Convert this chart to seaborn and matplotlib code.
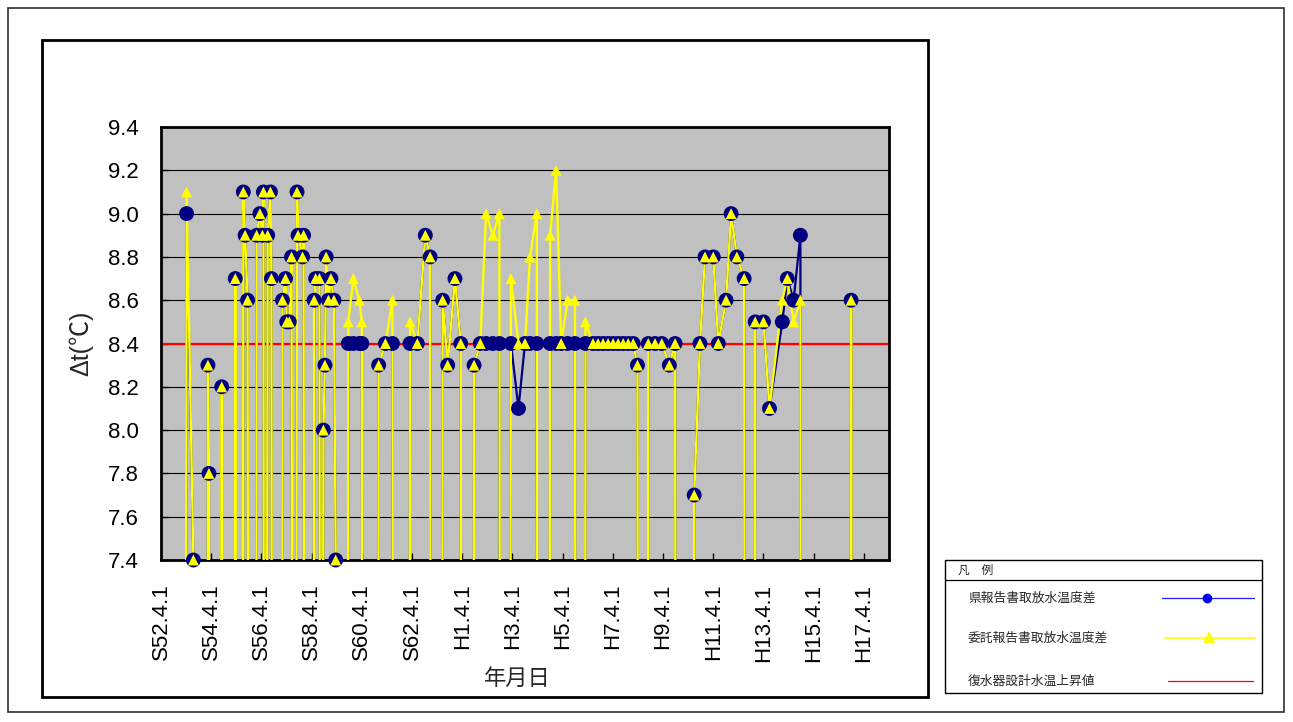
import matplotlib
matplotlib.use("Agg")
import matplotlib.pyplot as plt
from matplotlib.patches import Rectangle
from matplotlib.lines import Line2D
import numpy as np
import pandas as pd
import seaborn as sns

# ---------------- data ----------------
# report dates (decimal years); 0 = blank cell (plotted as zero by the spreadsheet)
report_dates = [
    1978.17, 1978.27, 1978.54, 1978.60, 1979.06, 1979.12, 1979.16, 1979.22,
    1979.62, 1979.67, 1979.72, 1980.16, 1980.21, 1980.26, 1980.48, 1980.53,
    1980.60, 1980.70, 1980.76, 1981.01, 1981.06, 1981.19, 1981.29, 1981.33,
    1981.39, 1981.50, 1981.61, 1981.65, 1981.71, 1982.05, 1982.09, 1982.21,
    1982.26, 1982.36, 1982.45, 1982.55, 1982.67, 1982.71, 1982.89, 1982.93,
    1982.99, 1983.29, 1983.35, 1983.41, 1983.56, 1983.64, 1983.72, 1983.78,
    1983.83, 1983.92, 1984.02, 1984.14, 1984.21, 1984.26, 1984.64, 1984.71,
    1984.91, 1985.15, 1985.25, 1985.32, 1985.86, 1985.92, 1986.19, 1986.47,
    1986.55, 1987.11, 1987.17, 1987.46, 1987.78, 1987.97, 1988.03, 1988.41,
    1988.47, 1988.67, 1988.96, 1989.19, 1989.26, 1989.66, 1989.72, 1989.97,
    1990.20, 1990.47, 1990.73, 1990.80, 1991.09, 1991.19, 1991.49, 1991.75,
    1991.95, 1992.22, 1992.29, 1992.69, 1992.75, 1992.99, 1993.19, 1993.45,
    1993.74, 1993.82, 1994.10, 1994.16, 1994.46, 1994.66, 1994.86, 1995.06,
    1995.26, 1995.46, 1995.66, 1995.86, 1996.06, 1996.23, 1996.29, 1996.59,
    1996.66, 1996.93, 1997.20, 1997.50, 1997.73, 1997.79, 1998.43, 1998.49,
    1998.72, 1998.92, 1999.25, 1999.45, 1999.76, 1999.96, 2000.19, 2000.48,
    2000.54, 2000.86, 2000.92, 2001.25, 2001.49, 2002.00, 2002.20, 2002.45,
    2002.72, 2002.77, 2004.68, 2004.74, 2004.80,
]
ken_values = [  # 県報告書取放水温度差
    0, 9.0, 7.4, 0, 0, 8.3, 7.8, 0,
    0, 8.2, 0, 0, 8.7, 0, 0, 9.1,
    8.9, 8.6, 0, 0, 8.9, 9.0, 8.9, 9.1,
    0, 8.9, 9.1, 8.7, 0, 0, 8.6, 8.7,
    8.5, 8.5, 8.8, 0, 9.1, 8.9, 8.8, 8.9,
    0, 0, 8.6, 8.7, 8.7, 0, 8.0, 8.3,
    8.8, 8.6, 8.7, 8.6, 7.4, 0, 0, 8.4,
    8.4, 8.4, 8.4, 0, 0, 8.3, 8.4, 8.4,
    0, 0, 8.4, 8.4, 8.9, 8.8, 0, 0,
    8.6, 8.3, 8.7, 8.4, 0, 0, 8.3, 8.4,
    8.4, 8.4, 8.4, 0, 0, 8.4, 8.1, 8.4,
    8.4, 8.4, 0, 0, 8.4, 8.4, 8.4, 8.4,
    8.4, 0, 0, 8.4, 8.4, 8.4, 8.4, 8.4,
    8.4, 8.4, 8.4, 8.4, 8.4, 8.3, 0, 0,
    8.4, 8.4, 8.4, 8.3, 8.4, 0, 0, 7.7,
    8.4, 8.8, 8.8, 8.4, 8.6, 9.0, 8.8, 8.7,
    0, 0, 8.5, 8.5, 8.1, 8.5, 8.7, 8.6,
    8.9, 0, 0, 8.6, 0,
]
itaku_values = [  # 委託報告書取放水温度差
    0, 9.1, 7.4, 0, 0, 8.3, 7.8, 0,
    0, 8.2, 0, 0, 8.7, 0, 0, 9.1,
    8.9, 8.6, 0, 0, 8.9, 9.0, 8.9, 9.1,
    0, 8.9, 9.1, 8.7, 0, 0, 8.6, 8.7,
    8.5, 8.5, 8.8, 0, 9.1, 8.9, 8.8, 8.9,
    0, 0, 8.6, 8.7, 8.7, 0, 8.0, 8.3,
    8.8, 8.6, 8.7, 8.6, 7.4, 0, 0, 8.5,
    8.7, 8.6, 8.5, 0, 0, 8.3, 8.4, 8.6,
    0, 0, 8.5, 8.4, 8.9, 8.8, 0, 0,
    8.6, 8.3, 8.7, 8.4, 0, 0, 8.3, 8.4,
    9.0, 8.9, 9.0, 0, 0, 8.7, 8.4, 8.4,
    8.8, 9.0, 0, 0, 8.9, 9.2, 8.4, 8.6,
    8.6, 0, 0, 8.5, 8.4, 8.4, 8.4, 8.4,
    8.4, 8.4, 8.4, 8.4, 8.4, 8.3, 0, 0,
    8.4, 8.4, 8.4, 8.3, 8.4, 0, 0, 7.7,
    8.4, 8.8, 8.8, 8.4, 8.6, 9.0, 8.8, 8.7,
    0, 0, 8.5, 8.5, 8.1, 8.6, 8.7, 8.5,
    8.6, 0, 0, 8.6, 0,
]
design_rise = 8.4  # 復水器設計水温上昇値

tick_years = [1977.25, 1979.25, 1981.25, 1983.25, 1985.25, 1987.25, 1989.25,
              1991.25, 1993.25, 1995.25, 1997.25, 1999.25, 2001.25, 2003.25,
              2005.25]
tick_labels = ["S52.4.1", "S54.4.1", "S56.4.1", "S58.4.1", "S60.4.1",
               "S62.4.1", "H1.4.1", "H3.4.1", "H5.4.1", "H7.4.1", "H9.4.1",
               "H11.4.1", "H13.4.1", "H15.4.1", "H17.4.1"]
y_ticks = [7.4, 7.6, 7.8, 8.0, 8.2, 8.4, 8.6, 8.8, 9.0, 9.2, 9.4]

legend_title = "凡　例"
legend_labels = ["県報告書取放水温度差", "委託報告書取放水温度差", "復水器設計水温上昇値"]

# ---------------- style ----------------
sns.set_style("white")
plt.rcParams['font.family'] = ['Liberation Sans', 'Noto Sans CJK JP', 'DejaVu Sans']

W, H = 1293, 722
def fx(x):
    return x / W
def fy(y):
    return 1 - y / H

fig = plt.figure(figsize=(W / 100, H / 100), dpi=100)
fig.patch.set_facecolor('white')

# frames
fig.add_artist(Rectangle((fx(8), fy(712)), fx(1284) - fx(8), fy(8) - fy(712),
                         transform=fig.transFigure, fill=False, ec='#303030', lw=1.2))
fig.add_artist(Rectangle((fx(42), fy(697)), fx(928) - fx(42), fy(40) - fy(697),
                         transform=fig.transFigure, fill=False, ec='black', lw=2.0))

ax = fig.add_axes([fx(161), fy(560), fx(889) - fx(161), fy(127) - fy(560)])
ax.set_facecolor('#C0C0C0')

df = pd.DataFrame({'date': report_dates, 'ken': ken_values, 'itaku': itaku_values})

ax.axhline(design_rise, color='#FF0000', lw=1.6, zorder=2.5)

sns.lineplot(data=df, x='date', y='ken', ax=ax, color='#000080', lw=1.6,
             estimator=None, sort=False, zorder=3)
sns.lineplot(data=df, x='date', y='itaku', ax=ax, color='#FFFF00', lw=1.7,
             estimator=None, sort=False, zorder=4)
sns.scatterplot(data=df, x='date', y='ken', ax=ax, color='#000080', marker='o',
                s=115, linewidth=0, edgecolor='none', zorder=5, clip_on=False)
sns.scatterplot(data=df, x='date', y='itaku', ax=ax, color='#FFFF00', marker='^',
                s=62, linewidth=0, edgecolor='none', zorder=6, clip_on=False)

ax.set_xlim(1977.25, 2006.25)
ax.set_ylim(7.4, 9.4)
ax.set_yticks(y_ticks)
ax.set_yticklabels([f"{v:.1f}" for v in y_ticks])
ax.set_xticks(tick_years)
ax.set_xticklabels(tick_labels, rotation=90)
ax.yaxis.grid(True, color='black', lw=0.8)
ax.xaxis.grid(False)
ax.set_axisbelow(True)
for s in ax.spines.values():
    s.set_visible(True)
    s.set_color('black')
    s.set_linewidth(2.0)
ax.tick_params(axis='both', direction='in', length=5, width=1, color='black',
               labelsize=16, labelcolor='black')
ax.tick_params(axis='y', pad=16, left=True)
ax.tick_params(axis='x', pad=17, bottom=True)

ax.set_xlabel("年月日", fontsize=16, family=['Noto Sans CJK JP', 'DejaVu Sans'])
ax.xaxis.set_label_coords(0.49, -0.2725)
ax.xaxis.label.set_va('center')
ax.set_ylabel("Δt(℃)", fontsize=18, family=['Liberation Sans', 'Noto Sans CJK JP', 'DejaVu Sans'])
ax.yaxis.set_label_coords(-0.11, 0.5)
ax.yaxis.label.set_va('center')

# ---------------- legend box ----------------
fig.add_artist(Rectangle((fx(945), fy(693)), fx(1262) - fx(945), fy(560) - fy(693),
                         transform=fig.transFigure, fill=False, ec='black', lw=1.0))
fig.add_artist(Line2D([fx(945), fx(1262)], [fy(580), fy(580)],
                      transform=fig.transFigure, color='black', lw=0.9))
cjk = ['Noto Sans CJK JP', 'DejaVu Sans']
fig.text(fx(958), fy(570), legend_title, fontsize=8.5, family=cjk, va='center', ha='left')
entry_y = [598, 638, 681]
for lab, yy in zip(legend_labels, entry_y):
    fig.text(fx(968), fy(yy), lab, fontsize=9.2, family=cjk, va='center', ha='left')

fig.add_artist(Line2D([fx(1162), fx(1254)], [fy(598), fy(598)], transform=fig.transFigure,
                      color='#2020FF', lw=0.9))
fig.add_artist(Line2D([fx(1207)], [fy(598)], transform=fig.transFigure, color='#0000EE',
                      marker='o', markersize=7, markeredgewidth=0, linestyle='None'))
fig.add_artist(Line2D([fx(1165), fx(1255)], [fy(638), fy(638)], transform=fig.transFigure,
                      color='#FFFF00', lw=1.2))
fig.add_artist(Line2D([fx(1209)], [fy(637)], transform=fig.transFigure, color='#FFFF00',
                      marker='^', markersize=8, markeredgewidth=0, linestyle='None'))
fig.add_artist(Line2D([fx(1168), fx(1253)], [fy(681), fy(681)], transform=fig.transFigure,
                      color='#FF0000', lw=0.9))

fig.savefig("out.png", dpi=100, facecolor='white')
